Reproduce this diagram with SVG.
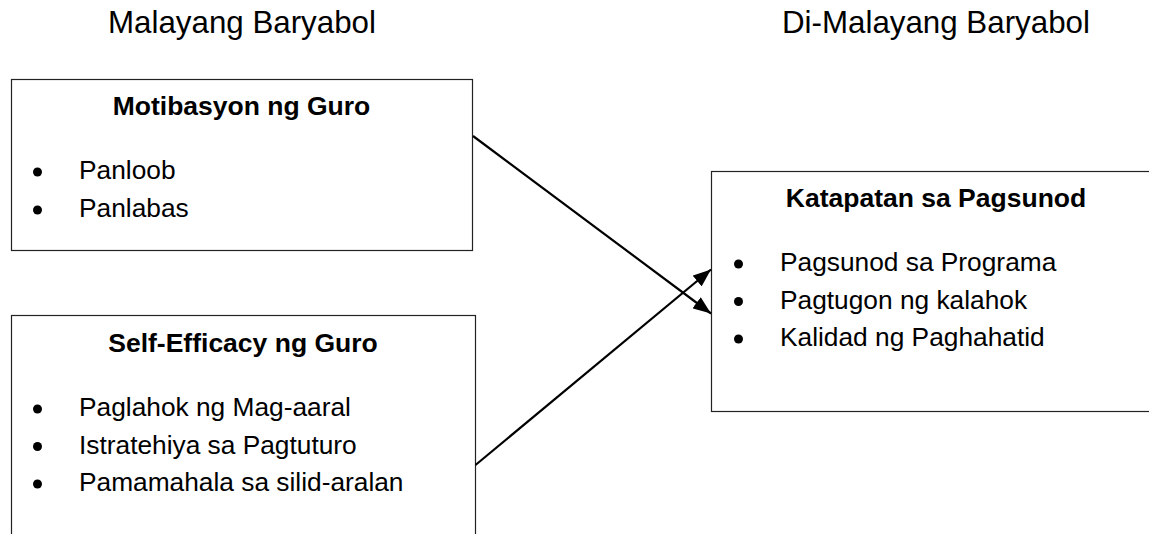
<svg xmlns="http://www.w3.org/2000/svg" width="1149" height="534" viewBox="0 0 1149 534">
<style>
  .box { fill: #ffffff; stroke: #222222; stroke-width: 1.2; }
  .head { font-family: "Liberation Sans", Arial, sans-serif; font-size: 31.3px; fill: #000; }
  .title { font-family: "Liberation Sans", Arial, sans-serif; font-size: 26.5px; font-weight: bold; fill: #000; text-anchor: middle; }
  .item { font-family: "Liberation Sans", Arial, sans-serif; font-size: 26.3px; fill: #000; }
  .dot { fill: #000; }
  .conn { stroke: #000; stroke-width: 2.2; fill: none; }
</style>
<defs>
  <marker id="arr" viewBox="0 0 18 14" refX="18" refY="7" markerWidth="18" markerHeight="14" markerUnits="userSpaceOnUse" orient="auto">
    <path d="M0,0 L18,7 L0,14 z" fill="#000"/>
  </marker>
</defs>
<rect width="1149" height="534" fill="#ffffff"/>
<text class="head" x="108" y="33">Malayang Baryabol</text>
<text class="head" x="782" y="33">Di-Malayang Baryabol</text>

<g id="node-motibasyon">
  <rect class="box" x="11.5" y="79.5" width="461" height="171"/>
  <text class="title" x="241.5" y="115">Motibasyon ng Guro</text>
  <circle class="dot" cx="37.5" cy="172" r="4.5"/>
  <text class="item" x="79" y="179">Panloob</text>
  <circle class="dot" cx="37.5" cy="210" r="4.5"/>
  <text class="item" x="79" y="217">Panlabas</text>
</g>

<g id="node-selfefficacy">
  <rect class="box" x="11.5" y="315.5" width="464" height="240"/>
  <text class="title" x="243" y="352">Self-Efficacy ng Guro</text>
  <circle class="dot" cx="37.5" cy="409" r="4.5"/>
  <text class="item" x="79" y="416">Paglahok ng Mag-aaral</text>
  <circle class="dot" cx="37.5" cy="446.5" r="4.5"/>
  <text class="item" x="79" y="453.5">Istratehiya sa Pagtuturo</text>
  <circle class="dot" cx="37.5" cy="484" r="4.5"/>
  <text class="item" x="79" y="491">Pamamahala sa silid-aralan</text>
</g>

<g id="node-katapatan">
  <rect class="box" x="711.5" y="171.5" width="460" height="240"/>
  <text class="title" x="936" y="207">Katapatan sa Pagsunod</text>
  <circle class="dot" cx="738.5" cy="264" r="4.5"/>
  <text class="item" x="780" y="271">Pagsunod sa Programa</text>
  <circle class="dot" cx="738.5" cy="301.5" r="4.5"/>
  <text class="item" x="780" y="308.5">Pagtugon ng kalahok</text>
  <circle class="dot" cx="738.5" cy="339" r="4.5"/>
  <text class="item" x="780" y="346">Kalidad ng Paghahatid</text>
</g>

<g id="connectors">
  <line class="conn" x1="473" y1="136" x2="711" y2="313.5" marker-end="url(#arr)"/>
  <line class="conn" x1="475.5" y1="465" x2="711" y2="269.5" marker-end="url(#arr)"/>
</g>
</svg>
